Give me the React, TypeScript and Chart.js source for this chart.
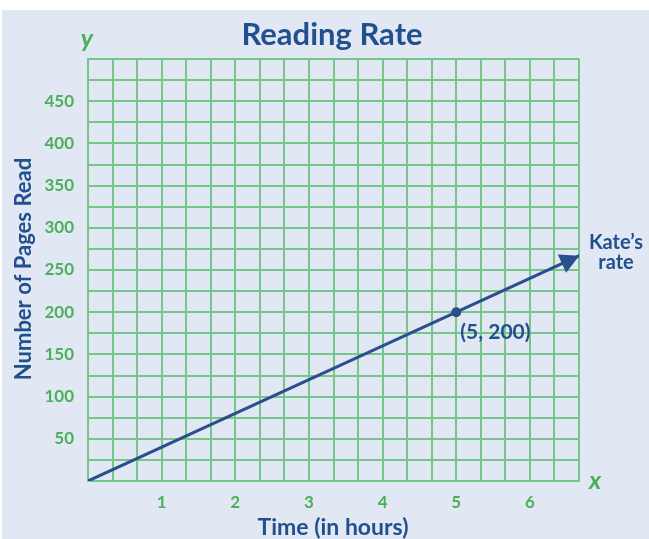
import React, { useEffect, useRef } from "react";
import { Chart, registerables } from "chart.js";

Chart.register(...registerables);

// ---- data ----
const hours: number[] = [0, 5, 6.67];
const pages: number[] = [0, 200, 267];
const xTickLabels: number[] = [1, 2, 3, 4, 5, 6];
const yTickLabels: number[] = [50, 100, 150, 200, 250, 300, 350, 400, 450];
const xMax = 20 / 3;
const yMax = 500;
const gridSteps = 20;
const titleText = "Reading Rate";
const xTitle = "Time (in hours)";
const yTitle = "Number of Pages Read";
const pointLabel = "(5, 200)";
const lineLabel = ["Kate\u2019s", "rate"];

const BG = "#e2e8f3";
const GREEN = "#77c689";
const TICK_GREEN = "#4bb05a";
const BLUE = "#21508f";
const LINE_BLUE = "#2b4f8e";
const FONT = "Lato, 'Open Sans', sans-serif";

export default function App() {
  const ref = useRef<HTMLCanvasElement | null>(null);

  useEffect(() => {
    const canvas = ref.current;
    if (!canvas) return;

    const bgPlugin = {
      id: "bg",
      beforeDraw(chart: any) {
        const ctx = chart.ctx;
        ctx.save();
        ctx.fillStyle = "#ffffff";
        ctx.fillRect(0, 0, chart.width, chart.height);
        ctx.fillStyle = BG;
        ctx.fillRect(2, 10, chart.width - 2, chart.height - 10);
        ctx.restore();
      },
    };

    const decoPlugin = {
      id: "deco",
      afterDatasetsDraw(chart: any) {
        const ctx = chart.ctx;
        const xs = chart.scales.x;
        const ys = chart.scales.y;
        const n = hours.length;
        const tx = xs.getPixelForValue(hours[n - 1]);
        const ty = ys.getPixelForValue(pages[n - 1]);
        const px = xs.getPixelForValue(hours[n - 2]);
        const py = ys.getPixelForValue(pages[n - 2]);
        const ang = Math.atan2(ty - py, tx - px);
        const len = 19;
        const hw = 10;
        const bx = tx - Math.cos(ang) * len;
        const by = ty - Math.sin(ang) * len;
        ctx.save();
        ctx.fillStyle = LINE_BLUE;
        ctx.beginPath();
        ctx.moveTo(tx, ty);
        ctx.lineTo(bx + Math.sin(ang) * hw, by - Math.cos(ang) * hw);
        ctx.lineTo(bx - Math.sin(ang) * hw, by + Math.cos(ang) * hw);
        ctx.closePath();
        ctx.fill();
        ctx.restore();
      },
      afterDraw(chart: any) {
        const ctx = chart.ctx;
        const xs = chart.scales.x;
        const ys = chart.scales.y;
        const area = chart.chartArea;
        ctx.save();
        // title
        ctx.fillStyle = BLUE;
        ctx.textAlign = "center";
        ctx.textBaseline = "alphabetic";
        ctx.font = `bold 31px ${FONT}`;
        ctx.fillText(titleText, 332, 45);
        // x title
        ctx.font = `bold 23px ${FONT}`;
        ctx.fillText(xTitle, 333, 535);
        // y title
        ctx.save();
        ctx.translate(24, 269);
        ctx.rotate(-Math.PI / 2);
        ctx.textBaseline = "middle";
        ctx.font = `bold 22px ${FONT}`;
        ctx.fillText(yTitle, 0, 0);
        ctx.restore();
        // axis letters
        ctx.fillStyle = TICK_GREEN;
        ctx.font = `italic bold 25px ${FONT}`;
        ctx.textBaseline = "middle";
        ctx.fillText("y", area.left - 1, 39);
        ctx.fillText("x", area.right + 16, area.bottom);
        // point label
        ctx.fillStyle = BLUE;
        ctx.font = `bold 21px ${FONT}`;
        ctx.textAlign = "left";
        ctx.fillText(pointLabel, xs.getPixelForValue(hours[1]) + 4, ys.getPixelForValue(pages[1]) + 20);
        // line label
        ctx.textAlign = "center";
        ctx.font = `bold 20px ${FONT}`;
        ctx.fillText(lineLabel[0], 616, 243);
        ctx.fillText(lineLabel[1], 616, 263);
        ctx.restore();
      },
    };

    const chart = new Chart(canvas, {
      type: "line",
      data: {
        datasets: [
          {
            data: hours.map((h, i) => ({ x: h, y: pages[i] })),
            borderColor: LINE_BLUE,
            backgroundColor: LINE_BLUE,
            borderWidth: 3,
            pointRadius: [0, 3.5, 0],
            pointHoverRadius: 0,
            fill: false,
          },
        ],
      },
      options: {
        responsive: false,
        animation: false,
        devicePixelRatio: 1,
        layout: { padding: { left: 0, top: 59, right: 70, bottom: 0 } },
        plugins: { legend: { display: false }, tooltip: { enabled: false }, title: { display: false } },
        scales: {
          x: {
            type: "linear",
            min: 0,
            max: xMax,
            afterBuildTicks(scale: any) {
              scale.ticks = Array.from({ length: gridSteps + 1 }, (_, i) => ({ value: (i * xMax) / gridSteps }));
            },
            afterFit(scale: any) {
              scale.height = 58;
            },
            grid: { color: GREEN, lineWidth: 2, drawTicks: false },
            border: { display: true, color: GREEN, width: 2 },
            ticks: {
              autoSkip: false,
              maxRotation: 0,
              padding: 11,
              color: TICK_GREEN,
              font: { family: FONT, size: 17, weight: "bold" },
              callback(v: any) {
                const r = Math.round(Number(v));
                return Math.abs(Number(v) - r) < 1e-6 && xTickLabels.includes(r) ? String(r) : "";
              },
            },
          },
          y: {
            type: "linear",
            min: 0,
            max: yMax,
            afterBuildTicks(scale: any) {
              scale.ticks = Array.from({ length: gridSteps + 1 }, (_, i) => ({ value: (i * yMax) / gridSteps }));
            },
            afterFit(scale: any) {
              scale.width = 88;
            },
            grid: { color: GREEN, lineWidth: 2, drawTicks: false },
            border: { display: true, color: GREEN, width: 2 },
            ticks: {
              autoSkip: false,
              padding: 14,
              color: TICK_GREEN,
              font: { family: FONT, size: 17, weight: "bold" },
              callback(v: any) {
                return yTickLabels.includes(Number(v)) ? String(v) : "";
              },
            },
          },
        },
      },
      plugins: [bgPlugin, decoPlugin],
    } as any);

    return () => chart.destroy();
  }, []);

  return (
    <div style={{ position: "fixed", left: 0, top: 0, width: 649, height: 539 }}>
      <canvas ref={ref} width={649} height={539} style={{ display: "block", width: 649, height: 539 }} />
    </div>
  );
}
